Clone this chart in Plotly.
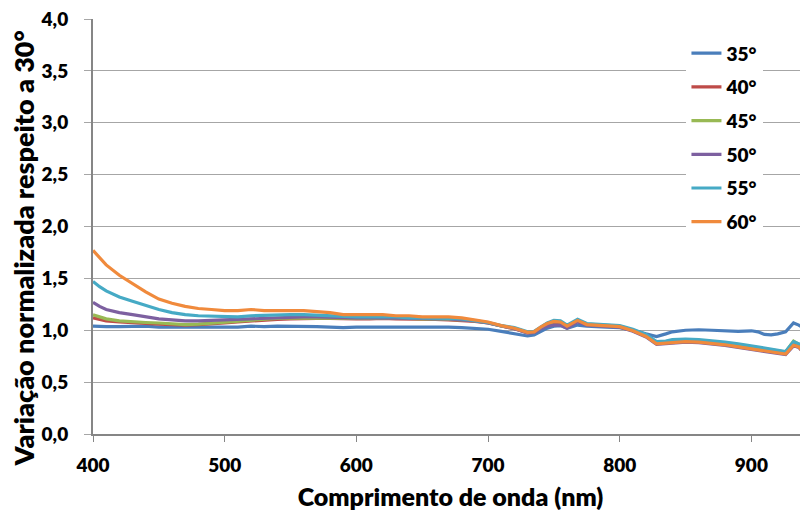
import plotly.graph_objects as go

wavelength = [400, 405, 410, 420, 430, 440, 450, 460, 470, 480, 490, 500, 510, 520, 530, 540,
              550, 560, 570, 580, 590, 600, 610, 620, 630, 640, 650, 660, 670, 680, 690, 700,
              710, 720, 730, 735, 740, 745, 750, 755, 760, 765, 768, 775, 780, 790, 800, 810,
              820, 828, 835, 840, 850, 860, 870, 880, 890, 900, 905, 910, 915, 920, 926, 932,
              936, 943]

s35 = [1.04, 1.035, 1.035, 1.035, 1.04, 1.04, 1.03, 1.03, 1.025, 1.025, 1.03, 1.03, 1.03, 1.04, 1.035, 1.04,
       1.04, 1.04, 1.035, 1.03, 1.025, 1.03, 1.03, 1.035, 1.035, 1.03, 1.03, 1.035, 1.03, 1.025, 1.02, 1.01,
       0.99, 0.97, 0.945, 0.955, 0.99, 1.02, 1.04, 1.045, 1.02, 1.04, 1.05, 1.04, 1.035, 1.03, 1.025, 1.0,
       0.965, 0.94, 0.965, 0.985, 1.0, 1.005, 1.0, 0.995, 0.99, 0.995, 0.985, 0.96, 0.955, 0.965, 0.985, 1.07,
       1.05, 0.99]

s40 = [1.12, 1.105, 1.09, 1.08, 1.07, 1.065, 1.06, 1.055, 1.05, 1.055, 1.06, 1.07, 1.08, 1.09, 1.10, 1.105,
       1.11, 1.115, 1.115, 1.115, 1.11, 1.11, 1.11, 1.115, 1.11, 1.11, 1.105, 1.105, 1.10, 1.095, 1.085, 1.07,
       1.04, 1.015, 0.975, 0.98, 1.02, 1.055, 1.07, 1.07, 1.03, 1.07, 1.09, 1.055, 1.05, 1.045, 1.035, 0.995,
       0.945, 0.875, 0.88, 0.893, 0.898, 0.893, 0.883, 0.868, 0.85, 0.83, 0.82, 0.81, 0.80, 0.788, 0.778, 0.87,
       0.85, 0.745]

s45 = [1.15, 1.13, 1.11, 1.09, 1.08, 1.075, 1.07, 1.06, 1.055, 1.06, 1.07, 1.08, 1.09, 1.10, 1.11, 1.115,
       1.12, 1.12, 1.12, 1.12, 1.115, 1.115, 1.115, 1.12, 1.115, 1.115, 1.11, 1.11, 1.105, 1.10, 1.09, 1.072,
       1.042, 1.02, 0.98, 0.985, 1.025, 1.065, 1.085, 1.08, 1.04, 1.08, 1.095, 1.06, 1.055, 1.05, 1.04, 1.003,
       0.952, 0.882, 0.887, 0.902, 0.907, 0.902, 0.892, 0.877, 0.862, 0.842, 0.832, 0.822, 0.812, 0.798, 0.79, 0.895,
       0.865, 0.755]

s50 = [1.27, 1.23, 1.20, 1.17, 1.15, 1.13, 1.11, 1.10, 1.09, 1.09, 1.095, 1.10, 1.105, 1.11, 1.12, 1.125,
       1.13, 1.13, 1.13, 1.125, 1.12, 1.12, 1.12, 1.12, 1.12, 1.115, 1.115, 1.11, 1.11, 1.10, 1.09, 1.07,
       1.04, 1.015, 0.975, 0.98, 1.015, 1.04, 1.05, 1.05, 1.02, 1.06, 1.08, 1.05, 1.045, 1.04, 1.03, 0.99,
       0.935, 0.865, 0.87, 0.88, 0.885, 0.88, 0.87, 0.855, 0.835, 0.815, 0.805, 0.795, 0.79, 0.775, 0.765, 0.85,
       0.835, 0.735]

s55 = [1.47, 1.42, 1.38, 1.32, 1.28, 1.24, 1.20, 1.17, 1.15, 1.14, 1.135, 1.13, 1.13, 1.14, 1.145, 1.15,
       1.15, 1.15, 1.145, 1.14, 1.13, 1.13, 1.13, 1.13, 1.13, 1.12, 1.12, 1.12, 1.115, 1.11, 1.09, 1.075,
       1.045, 1.025, 0.985, 0.99, 1.03, 1.07, 1.095, 1.09, 1.05, 1.09, 1.105, 1.065, 1.06, 1.055, 1.045, 1.01,
       0.96, 0.89, 0.895, 0.91, 0.915, 0.91, 0.90, 0.885, 0.87, 0.85, 0.84, 0.83, 0.82, 0.805, 0.795, 0.89,
       0.87, 0.76]

s60 = [1.77, 1.70, 1.63, 1.53, 1.45, 1.37, 1.30, 1.26, 1.23, 1.21, 1.20, 1.19, 1.19, 1.20, 1.19, 1.19,
       1.19, 1.19, 1.18, 1.17, 1.15, 1.15, 1.15, 1.15, 1.14, 1.14, 1.13, 1.13, 1.13, 1.12, 1.10, 1.08,
       1.045, 1.02, 0.98, 0.985, 1.03, 1.065, 1.085, 1.08, 1.04, 1.08, 1.095, 1.055, 1.05, 1.045, 1.035, 0.995,
       0.94, 0.87, 0.875, 0.885, 0.89, 0.885, 0.875, 0.86, 0.84, 0.82, 0.81, 0.80, 0.795, 0.78, 0.77, 0.855,
       0.84, 0.74]

series_names = ["35°", "40°", "45°", "50°", "55°", "60°"]
series_values = [s35, s40, s45, s50, s55, s60]
colors = ["#4A7EBB", "#BE4B48", "#98B954", "#7D60A0", "#46AAC5", "#F08A3C"]

y_tick_vals = [0, 0.5, 1.0, 1.5, 2.0, 2.5, 3.0, 3.5, 4.0]
x_tick_vals = [400, 500, 600, 700, 800, 900]

FONT = "Lato"
W = 800

fig = go.Figure()
for name, vals, col in zip(series_names, series_values, colors):
    fig.add_trace(go.Scatter(x=wavelength, y=vals, mode="lines", name=name,
                             legendgroup=name,
                             line=dict(color=col, width=3.2)))

fig.update_layout(
    width=808, height=514,
    margin=dict(l=85, r=8, t=11, b=88),
    paper_bgcolor="white", plot_bgcolor="white",
    separators=",.",
    font=dict(family=FONT, size=19, color="black", weight=W),
    showlegend=True,
    legend=dict(x=0.830, y=0.963, xanchor="left", yanchor="top",
                bgcolor="white", borderwidth=0,
                font=dict(family=FONT, size=19, color="black", weight=W),
                traceorder="grouped", tracegroupgap=6),
    annotations=[dict(text="Variação normalizada respeito a 30°", textangle=-90,
                      xref="paper", yref="paper", x=-0.097, y=0.446,
                      xanchor="center", yanchor="middle", showarrow=False,
                      font=dict(family=FONT, size=27, weight=W, color="black"))],
)
fig.update_xaxes(range=[400, 943], tickvals=x_tick_vals, ticks="outside", ticklen=6,
                 tickcolor="#868686", showline=True, linecolor="#868686", linewidth=2,
                 showgrid=False, zeroline=False, automargin=False,
                 ticklabelstandoff=7,
                 tickfont=dict(family=FONT, size=19, weight=W),
                 title=dict(text="Comprimento de onda (nm)",
                            font=dict(family=FONT, size=25, weight=W), standoff=14))
fig.update_yaxes(range=[0, 4.0005], tickvals=y_tick_vals, tickformat=".1f", ticks="outside", ticklen=7,
                 tickcolor="#A6A6A6", showline=True, linecolor="#868686", linewidth=2,
                 showgrid=True, gridcolor="#A6A6A6", gridwidth=1, zeroline=False, automargin=False,
                 ticklabelstandoff=12, ticklabeloverflow="allow",
                 tickfont=dict(family=FONT, size=19, weight=W))

fig.write_html("out.html")
